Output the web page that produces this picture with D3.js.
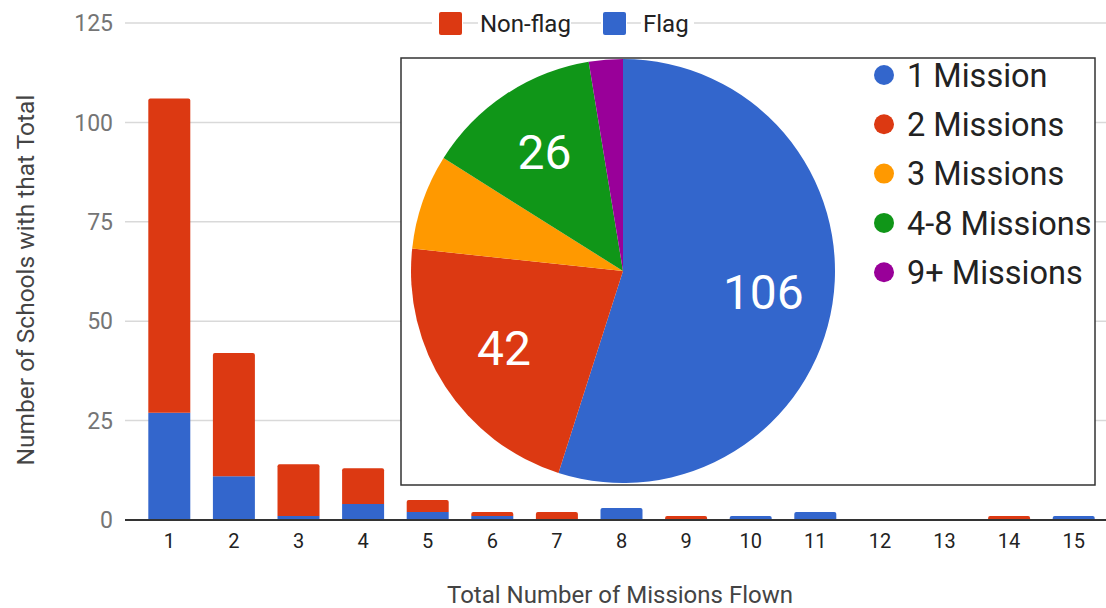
<!DOCTYPE html>
<html>
<head>
<meta charset="utf-8">
<script src="https://cdn.jsdelivr.net/npm/d3@7"></script>
<style>
  html, body { margin: 0; padding: 0; background: #fff; }
  svg { display: block; font-family: Roboto, Arial, sans-serif; }
</style>
</head>
<body>
<svg id="chart" width="1106" height="608"></svg>
<script>
// ---- data ----
const missions = ["1","2","3","4","5","6","7","8","9","10","11","12","13","14","15"];
const flag     = [27, 11, 1, 4, 2, 1, 0, 3, 0, 1, 2, 0, 0, 0, 1];
const nonFlag  = [79, 31, 13, 9, 3, 1, 2, 0, 1, 0, 0, 0, 0, 1, 0];
const yTicks   = [0, 25, 50, 75, 100, 125];
const seriesNames  = ["Non-flag", "Flag"];
const seriesColors = ["#dc3912", "#3366cc"];

const pieLabels = ["1 Mission", "2 Missions", "3 Missions", "4-8 Missions", "9+ Missions"];
const pieValues = [106, 42, 14, 26, 5];
const pieColors = ["#3366cc", "#dc3912", "#ff9900", "#109618", "#990099"];

// ---- layout ----
const svg = d3.select("#chart");
const plotLeft = 125, plotRight = 1106, plotTop = 23, plotBottom = 520;

const x = d3.scaleBand().domain(missions).range([137, 1106]).paddingInner(0.35).paddingOuter(0.175);
const y = d3.scaleLinear().domain([0, 125]).range([plotBottom, plotTop]);

// gridlines
svg.append("g").selectAll("line").data(yTicks.filter(d => d > 0)).join("line")
  .attr("x1", plotLeft).attr("x2", plotRight)
  .attr("y1", d => y(d)).attr("y2", d => y(d))
  .attr("stroke", "#d9d9d9").attr("stroke-width", 1.5);

// y tick labels
svg.append("g").selectAll("text").data(yTicks).join("text")
  .attr("x", 113).attr("y", d => y(d)).attr("dy", "0.36em")
  .attr("text-anchor", "end").attr("font-size", 23).attr("fill", "#757575")
  .text(d => d);

// stacked bars
const stackData = missions.map((m, i) => ({ m, Flag: flag[i], "Non-flag": nonFlag[i] }));
const stack = d3.stack().keys(["Flag", "Non-flag"])(stackData);
const colorOf = { "Flag": seriesColors[1], "Non-flag": seriesColors[0] };
stack.forEach(layer => {
  svg.append("g").selectAll("path").data(layer.filter(d => d[1] > d[0])).join("path")
    .attr("fill", colorOf[layer.key])
    .attr("d", d => {
      const x0 = x(d.data.m), w = x.bandwidth();
      const yt = y(d[1]), yb = y(d[0]);
      const isTop = layer.key === "Non-flag" || d.data["Non-flag"] === 0;
      const r = isTop ? Math.min(2, (yb - yt) / 2) : 0;
      return `M${x0},${yb}V${yt + r}Q${x0},${yt} ${x0 + r},${yt}H${x0 + w - r}Q${x0 + w},${yt} ${x0 + w},${yt + r}V${yb}Z`;
    });
});

// baseline
svg.append("line").attr("x1", plotLeft).attr("x2", plotRight)
  .attr("y1", y(0)).attr("y2", y(0)).attr("stroke", "#333").attr("stroke-width", 2);

// x tick labels
svg.append("g").selectAll("text").data(missions).join("text")
  .attr("x", d => x(d) + x.bandwidth() / 2).attr("y", 548)
  .attr("text-anchor", "middle").attr("font-size", 20).attr("fill", "#222")
  .text(d => d);

// axis titles
svg.append("text").attr("x", 620).attr("y", 603).attr("text-anchor", "middle")
  .attr("font-size", 24).attr("fill", "#444").text("Total Number of Missions Flown");
svg.append("text").attr("transform", "translate(34,280) rotate(-90)").attr("text-anchor", "middle")
  .attr("font-size", 24.5).attr("fill", "#444").text("Number of Schools with that Total");

// top legend
const legendItems = [
  { name: seriesNames[0], color: seriesColors[0], sx: 439, tx: 480 },
  { name: seriesNames[1], color: seriesColors[1], sx: 603, tx: 643 }
];
const lg = svg.append("g");
lg.append("rect").attr("x", 432).attr("y", 8).attr("width", 262).attr("height", 32).attr("fill", "#fff");
legendItems.forEach(it => {
  lg.append("rect").attr("x", it.sx).attr("y", 12).attr("width", 23).attr("height", 23)
    .attr("rx", 2).attr("fill", it.color);
  lg.append("text").attr("x", it.tx).attr("y", 32).attr("font-size", 24).attr("fill", "#222").text(it.name);
});
[[462, 480], [570, 603], [626, 643]].forEach(([a, b]) => {
  lg.append("line").attr("x1", a + 1).attr("x2", b - 2).attr("y1", y(125)).attr("y2", y(125))
    .attr("stroke", "#d9d9d9").attr("stroke-width", 1.5);
});

// ---- inset pie ----
const box = { x: 401, y: 58, w: 694, h: 427 };
svg.append("rect").attr("x", box.x).attr("y", box.y).attr("width", box.w).attr("height", box.h)
  .attr("fill", "#fff").attr("stroke", "#333").attr("stroke-width", 1.5);

const cx = 623, cy = 271, R = 212;
const pie = d3.pie().sort(null).value(d => d)(pieValues);
const arc = d3.arc().innerRadius(0).outerRadius(R);
const pg = svg.append("g").attr("transform", `translate(${cx},${cy})`);
pg.selectAll("path").data(pie).join("path")
  .attr("d", arc).attr("fill", (d, i) => pieColors[i]);
const total = d3.sum(pieValues);
const labelArc = d3.arc().innerRadius(R * 0.67).outerRadius(R * 0.67);
pg.selectAll("text").data(pie.filter(d => d.value / total > 0.1)).join("text")
  .attr("transform", d => `translate(${labelArc.centroid(d)})`)
  .attr("text-anchor", "middle").attr("dy", "0.34em")
  .attr("font-size", 48).attr("fill", "#fff").text(d => d.value);

// pie legend
const pl = svg.append("g");
pieLabels.forEach((lab, i) => {
  const yy = 75 + i * 49.3;
  pl.append("circle").attr("cx", 884).attr("cy", yy).attr("r", 10).attr("fill", pieColors[i]);
  pl.append("text").attr("x", 907).attr("y", yy).attr("dy", "0.36em")
    .attr("font-size", 32.5).attr("fill", "#222").text(lab);
});
</script>
</body>
</html>
